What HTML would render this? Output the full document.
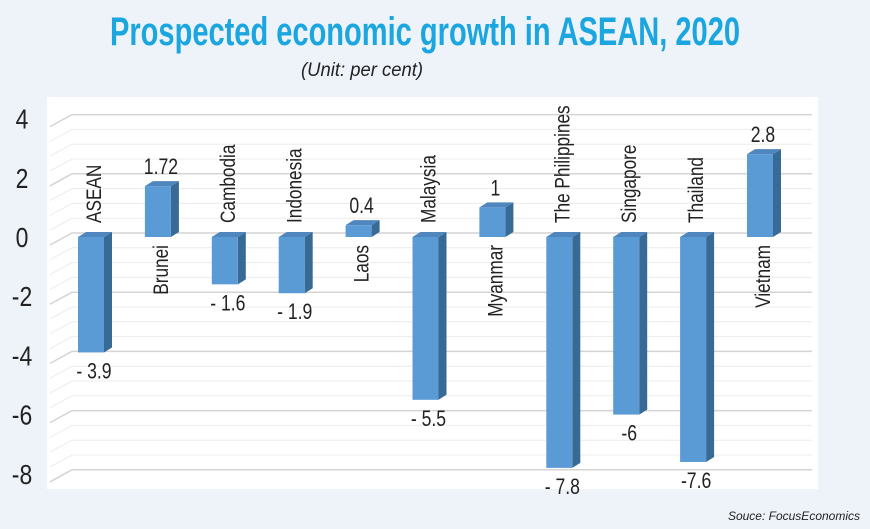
<!DOCTYPE html>
<html><head><meta charset="utf-8"><style>
html,body{margin:0;padding:0;background:#eef3fa;}
svg{display:block;font-family:"Liberation Sans",sans-serif;}
</style></head><body>
<svg id="c" width="870" height="529" viewBox="0 0 870 529">
<rect x="0" y="0" width="870" height="529" fill="#eef3fa"/>
<text x="425" y="45" text-anchor="middle" font-size="40" font-weight="bold" fill="#1ca6df" textLength="630" lengthAdjust="spacingAndGlyphs">Prospected economic growth in ASEAN, 2020</text>
<text x="362" y="76" text-anchor="middle" font-size="19" font-style="italic" fill="#222" textLength="122" lengthAdjust="spacingAndGlyphs">(Unit: per cent)</text>
<rect x="47" y="97" width="771" height="392" fill="#ffffff"/>
<g id="grid"></g><g id="bars"></g><g id="labels"></g>
<text x="860" y="520" text-anchor="end" font-size="12" font-style="italic" fill="#222">Souce: FocusEconomics</text>
</svg>
<script>
const categories=["ASEAN","Brunei","Cambodia","Indonesia","Laos","Malaysia","Myanmar","The Philippines","Singapore","Thailand","Vietnam"];
const values=[-3.9,1.72,-1.6,-1.9,0.4,-5.5,1,-7.8,-6,-7.6,2.8];
const valueLabels=["-  3.9","1.72","-  1.6","-  1.9","0.4","-  5.5","1","-  7.8","-6","-7.6","2.8"];
const yTicks=[4,2,0,-2,-4,-6,-8];
const NS="http://www.w3.org/2000/svg";
function y(v){return 237-v*29.6;}
function x(i){return 78+i*66.9;}
function mk(tag,attrs,parent){const e=document.createElementNS(NS,tag);for(const k in attrs)e.setAttribute(k,attrs[k]);parent.appendChild(e);return e;}
const grid=document.getElementById('grid'),bars=document.getElementById('bars'),labels=document.getElementById('labels');
for(let v=4;v>=-8;v-=0.5){
  const yy=y(v)-4;const major=(v%2===0);
  const l=mk('polyline',{points:`50,${yy+12} 72,${yy} 812,${yy}`,fill:'none',stroke:major?'#d4d4d4':'#ececec','stroke-width':major?1.5:1},grid);
  
  
}
yTicks.forEach(t=>{
  const e=mk('text',{'text-anchor':'middle','font-size':28,fill:'#222',transform:`translate(22,${y(t)+10}) scale(0.82,1)`},labels);
  e.textContent=t;
  
  
});
const W=26,D=8,R=5;
values.forEach((v,i)=>{
  const x0=x(i),y0=y(0),y1=y(v);const top=Math.min(y0,y1),bot=Math.max(y0,y1);
  const g=mk('g',{},bars);
  
  
  mk('polygon',{points:`${x0+W},${top} ${x0+W+D},${top-R} ${x0+W+D},${bot-R} ${x0+W},${bot}`,fill:'#386a96'},g);
  mk('polygon',{points:`${x0},${top} ${x0+D},${top-R} ${x0+W+D},${top-R} ${x0+W},${top}`,fill:'#4f86bd'},g);
  mk('rect',{x:x0,y:top,width:W,height:bot-top,fill:'#5b9bd5'},g);
  const cx=x0+W/2+3;
  const vl=mk('text',{'text-anchor':'middle','font-size':22,fill:'#222',transform:`translate(${cx},${v<0?bot+26:top-12}) scale(0.8,1)`},labels);
  vl.textContent=valueLabels[i];
  
  
  const cl=mk('text',{'font-size':21,fill:'#222','text-anchor':v<0?'start':'end',transform:`translate(${cx+7},${v<0?y0-14:y0+8}) rotate(-90) scale(0.82,1)`},labels);
  cl.textContent=categories[i];
  
  
});
</script>
</body></html>
